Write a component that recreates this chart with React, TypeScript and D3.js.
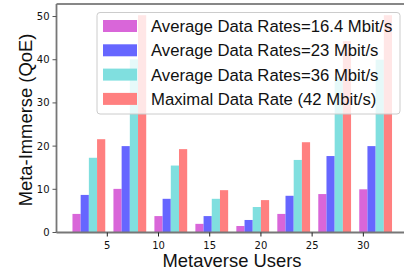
import React from 'react';
import * as d3 from 'd3';

// group positions on the x axis and the four series
const groupX = [2, 6, 10, 14, 18, 22, 26, 30];
const rate164 = [4.3, 10.1, 3.8, 2.0, 1.5, 4.3, 8.9, 10.0];
const rate23 = [8.7, 20.0, 7.8, 3.8, 2.9, 8.5, 17.7, 20.0];
const rate36 = [17.3, 40.1, 15.5, 7.8, 5.9, 16.8, 36.0, 40.0];
const rateMax = [21.6, 50.3, 19.3, 9.8, 7.5, 20.9, 44.3, 50.3];

const seriesNames = [
  'Average Data Rates=16.4 Mbit/s',
  'Average Data Rates=23 Mbit/s',
  'Average Data Rates=36 Mbit/s',
  'Maximal Data Rate (42 Mbit/s)',
];
const colors = ['#d966d9', '#6666ff', '#80dfdf', '#ff8080'];
const xTicks = [5, 10, 15, 20, 25, 30];
const yTicks = [0, 10, 20, 30, 40, 50];

const W = 404;
const H = 274;
const tickFont = 'DejaVu Sans, sans-serif';
const labelFont = 'Liberation Sans, Arial, sans-serif';

export default function App() {
  const series = [rate164, rate23, rate36, rateMax];
  const barW = 0.8;

  const x = d3.scaleLinear().domain([0.04, 34.36]).range([56.5, 408]);
  const y = d3.scaleLinear().domain([0, 52.9]).range([232.5, 4]);

  const left = x(0.04);
  const bottom = y(0);
  const top = y(52.9);

  return (
    <svg width={W} height={H} style={{ position: 'absolute', left: 0, top: 0 }}>
      <rect width={W} height={H} fill="#fff" />

      {/* bars */}
      {series.map((vals, si) =>
        vals.map((v, i) => {
          const cx = groupX[i] + si * barW;
          return (
            <rect
              key={`${si}-${i}`}
              x={x(cx - barW / 2)}
              y={y(v)}
              width={x(cx + barW / 2) - x(cx - barW / 2)}
              height={bottom - y(v)}
              fill={colors[si]}
            />
          );
        })
      )}

      {/* spines */}
      <line x1={left} x2={W} y1={top} y2={top} stroke="#111" strokeWidth={1.2} />
      <line x1={left} x2={left} y1={top} y2={bottom} stroke="#777" strokeWidth={1.8} />
      <line x1={left} x2={W} y1={bottom} y2={bottom} stroke="#777" strokeWidth={1.8} />

      {/* y ticks */}
      {yTicks.map((t) => (
        <g key={`y${t}`}>
          <line x1={left - 4} x2={left} y1={y(t)} y2={y(t)} stroke="#555" strokeWidth={1} />
          <text x={left - 7} y={y(t)} dy="0.35em" textAnchor="end" fontSize={10} fill="#111" fontFamily={tickFont}>
            {t}
          </text>
        </g>
      ))}

      {/* x ticks */}
      {xTicks.map((t) => (
        <g key={`x${t}`}>
          <line x1={x(t)} x2={x(t)} y1={bottom} y2={bottom + 4} stroke="#222" strokeWidth={1} />
          <text x={x(t)} y={bottom + 16} textAnchor="middle" fontSize={10} fill="#111" fontFamily={tickFont}>
            {t}
          </text>
        </g>
      ))}

      {/* axis labels */}
      <text x={232} y={267} textAnchor="middle" fontSize={18.4} fill="#111" fontFamily={labelFont}>
        Metaverse Users
      </text>
      <text
        transform={`translate(32, 120) rotate(-90)`}
        textAnchor="middle"
        fontSize={18.4}
        fill="#111"
        fontFamily={labelFont}
      >
        Meta-Immerse (QoE)
      </text>

      {/* legend */}
      <rect x={97} y={12.5} width={303} height={101.5} rx={3} fill="#fff" fillOpacity={0.8} stroke="#ccc" strokeWidth={1} />
      {seriesNames.map((name, i) => {
        const cy = 26 + i * 24.3;
        return (
          <g key={name}>
            <rect x={103} y={cy - 6} width={34} height={12} fill={colors[i]} />
            <text x={151} y={cy} dy="0.36em" fontSize={16.7} fill="#111" fontFamily={labelFont}>
              {name}
            </text>
          </g>
        );
      })}
    </svg>
  );
}
